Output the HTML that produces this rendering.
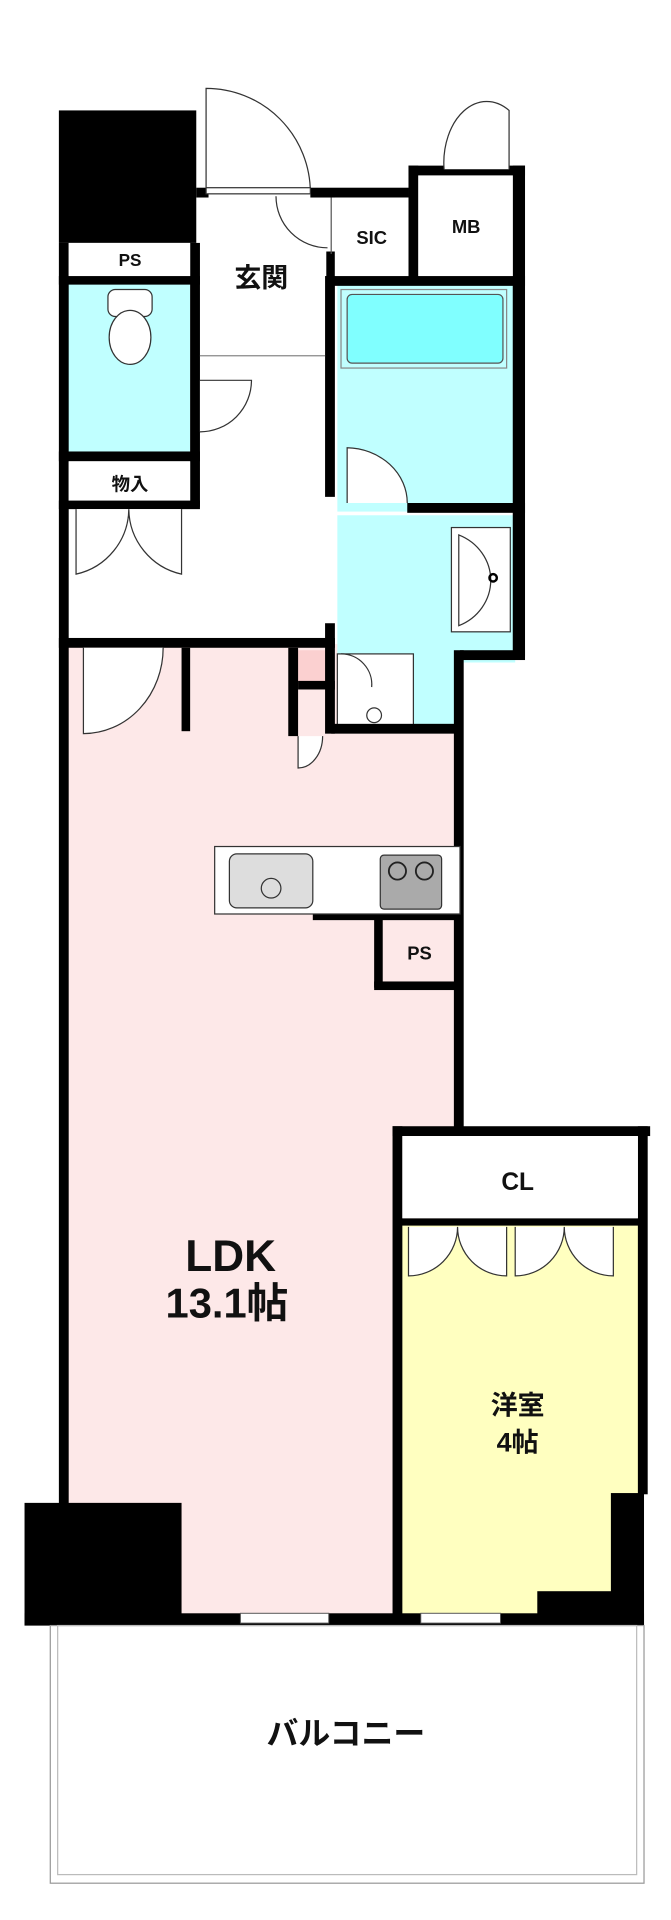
<!DOCTYPE html>
<html><head><meta charset="utf-8"><style>
html,body{margin:0;padding:0;background:#fff;width:671px;height:1920px;overflow:hidden}
svg{display:block}
text{font-family:"Liberation Sans","Noto Sans CJK JP",sans-serif;font-weight:bold;fill:#111;text-anchor:middle}
</style></head><body>
<svg width="671" height="1920" viewBox="0 0 547 1565" preserveAspectRatio="none" xmlns="http://www.w3.org/2000/svg">
<!-- fills -->
<rect x="55" y="525" width="320" height="795" fill="#fde8e8"/>
<rect x="325" y="995" width="198" height="322" fill="#ffffc0"/>
<rect x="55" y="230" width="100" height="140" fill="#c0ffff"/>
<rect x="275" y="232" width="145" height="185" fill="#c0ffff"/>
<rect x="275" y="420" width="145" height="120" fill="#c0ffff"/>
<rect x="275" y="535" width="100" height="60" fill="#c0ffff"/>
<rect x="283" y="240" width="127" height="56" rx="4" fill="#80ffff" stroke="#555" stroke-width="1"/>
<rect x="278" y="236" width="135" height="64" fill="none" stroke="#888" stroke-width="1"/>
<rect x="240" y="530" width="28" height="28" fill="#fbd0d0"/>
<rect x="275" y="533" width="62" height="62" fill="#fff" stroke="#333" stroke-width="1"/>
<circle cx="305" cy="583" r="6" fill="#fff" stroke="#333"/>
<!-- black walls -->
<g fill="#000">
<rect x="48" y="90" width="112" height="108"/>
<rect x="48" y="198" width="8" height="1030"/>
<rect x="155" y="198" width="8" height="215"/>
<rect x="48" y="225" width="115" height="7"/>
<rect x="48" y="368" width="115" height="8"/>
<rect x="48" y="408" width="115" height="7"/>
<rect x="160" y="153" width="10" height="8"/>
<rect x="253" y="153" width="80" height="8"/>
<rect x="333" y="135" width="95" height="8"/>
<rect x="333" y="135" width="8" height="92"/>
<rect x="418" y="135" width="10" height="400"/>
<rect x="266" y="225" width="162" height="8"/>
<rect x="266" y="205" width="7" height="25"/>
<rect x="265" y="225" width="8" height="180"/>
<rect x="265" y="508" width="8" height="90"/>
<rect x="48" y="520" width="225" height="8"/>
<rect x="148" y="528" width="7" height="68"/>
<rect x="332" y="410" width="96" height="8"/>
<rect x="375" y="530" width="53" height="8"/>
<rect x="370" y="530" width="8" height="390"/>
<rect x="235" y="528" width="8" height="72"/>
<rect x="243" y="555" width="30" height="7"/>
<rect x="270" y="590" width="105" height="8"/>
<rect x="255" y="742" width="120" height="8"/>
<rect x="305" y="745" width="7" height="60"/>
<rect x="305" y="800" width="70" height="7"/>
<rect x="320" y="918" width="210" height="8"/>
<rect x="320" y="918" width="8" height="400"/>
<rect x="520" y="918" width="8" height="300"/>
<rect x="325" y="993" width="200" height="6"/>
<rect x="20" y="1225" width="128" height="100"/>
<rect x="498" y="1217" width="27" height="108"/>
<rect x="438" y="1297" width="87" height="28"/>
<rect x="20" y="1315" width="505" height="10"/>
</g>
<line x1="270" y1="161" x2="270" y2="207" stroke="#555" stroke-width="1"/>
<!-- rooms outlines white -->
<rect x="56" y="198" width="99" height="27" fill="#fff"/>
<rect x="56" y="376" width="99" height="32" fill="#fff"/>
<rect x="273" y="161" width="60" height="64" fill="#fff"/>
<rect x="341" y="143" width="77" height="82" fill="#fff"/>
<rect x="328" y="926" width="192" height="67" fill="#fff"/>
<!-- windows -->
<rect x="196" y="1315" width="72" height="8" fill="#fff" stroke="#555" stroke-width="0.8"/>
<rect x="343" y="1315" width="65" height="8" fill="#fff" stroke="#555" stroke-width="0.8"/>
<!-- doors -->
<g fill="#fff" stroke="#333" stroke-width="1">
<path d="M168 157 V72 A85 85 0 0 1 253 157 Z"/>
<rect x="168" y="153" width="85" height="5"/>
<path d="M225 160 A42 42 0 0 0 267 202"/>
<path d="M362 138 A35 50 0 0 1 415 90 V138"/>
<path d="M163 310 H205 A42 42 0 0 1 163 352"/>
<path d="M283 410 V365 A50 45 0 0 1 332 410"/>
<path d="M62 415 V468 A55 55 0 0 0 105 415 M148 415 V468 A55 55 0 0 1 105 415"/>
<path d="M68 528 V598 A65 70 0 0 0 133 528"/>
<path d="M278 533 A25 25 0 0 1 303 560"/>
<path d="M243 600 V626 A20 26 0 0 0 263 600"/>
<path d="M333 1000 V1040 A40 40 0 0 0 373 1000 M413 1000 V1040 A40 40 0 0 1 373 1000"/>
<path d="M420 1000 V1040 A40 40 0 0 0 460 1000 M500 1000 V1040 A40 40 0 0 1 460 1000"/>
</g>
<line x1="163" y1="290" x2="265" y2="290" stroke="#888" stroke-width="1"/>
<!-- toilet -->
<rect x="88" y="236" width="36" height="22" rx="6" fill="#fff" stroke="#333"/>
<ellipse cx="106" cy="275" rx="17" ry="22" fill="#fff" stroke="#333"/>
<!-- wash basin -->
<rect x="368" y="430" width="48" height="85" fill="#fff" stroke="#333"/>
<path d="M374 436 A42 40 0 0 1 374 510 Z" fill="#fff" stroke="#333"/>
<circle cx="402" cy="471" r="3" fill="none" stroke="#000" stroke-width="2"/>
<!-- kitchen -->
<rect x="175" y="690" width="200" height="55" fill="#fff" stroke="#333"/>
<rect x="187" y="696" width="68" height="44" rx="6" fill="#ddd" stroke="#333"/>
<circle cx="221" cy="724" r="8" fill="#ddd" stroke="#333"/>
<rect x="310" y="697" width="50" height="44" rx="3" fill="#aaa" stroke="#333"/>
<circle cx="324" cy="710" r="7" fill="none" stroke="#222" stroke-width="1.5"/>
<circle cx="346" cy="710" r="7" fill="none" stroke="#222" stroke-width="1.5"/>
<!-- balcony -->
<rect x="41" y="1325" width="484" height="210" fill="#fff" stroke="#999" stroke-width="1"/>
<rect x="47" y="1325" width="472" height="203" fill="none" stroke="#bbb" stroke-width="1"/>
<!-- labels -->
<text x="106" y="217" font-size="14">PS</text>
<text x="106" y="400" font-size="15">物入</text>
<text x="213" y="234" font-size="22">玄関</text>
<text x="303" y="199" font-size="15">SIC</text>
<text x="380" y="190" font-size="15">MB</text>
<text x="342" y="782" font-size="15">PS</text>
<text x="422" y="970" font-size="20">CL</text>
<text x="188" y="1036" font-size="36">LDK</text>
<text x="185" y="1074" font-size="34">13.1帖</text>
<text x="422" y="1153" font-size="22">洋室</text>
<text x="422" y="1183" font-size="22">4帖</text>
<text x="282" y="1422" font-size="26">バルコニー</text>
</svg>
</body></html>
